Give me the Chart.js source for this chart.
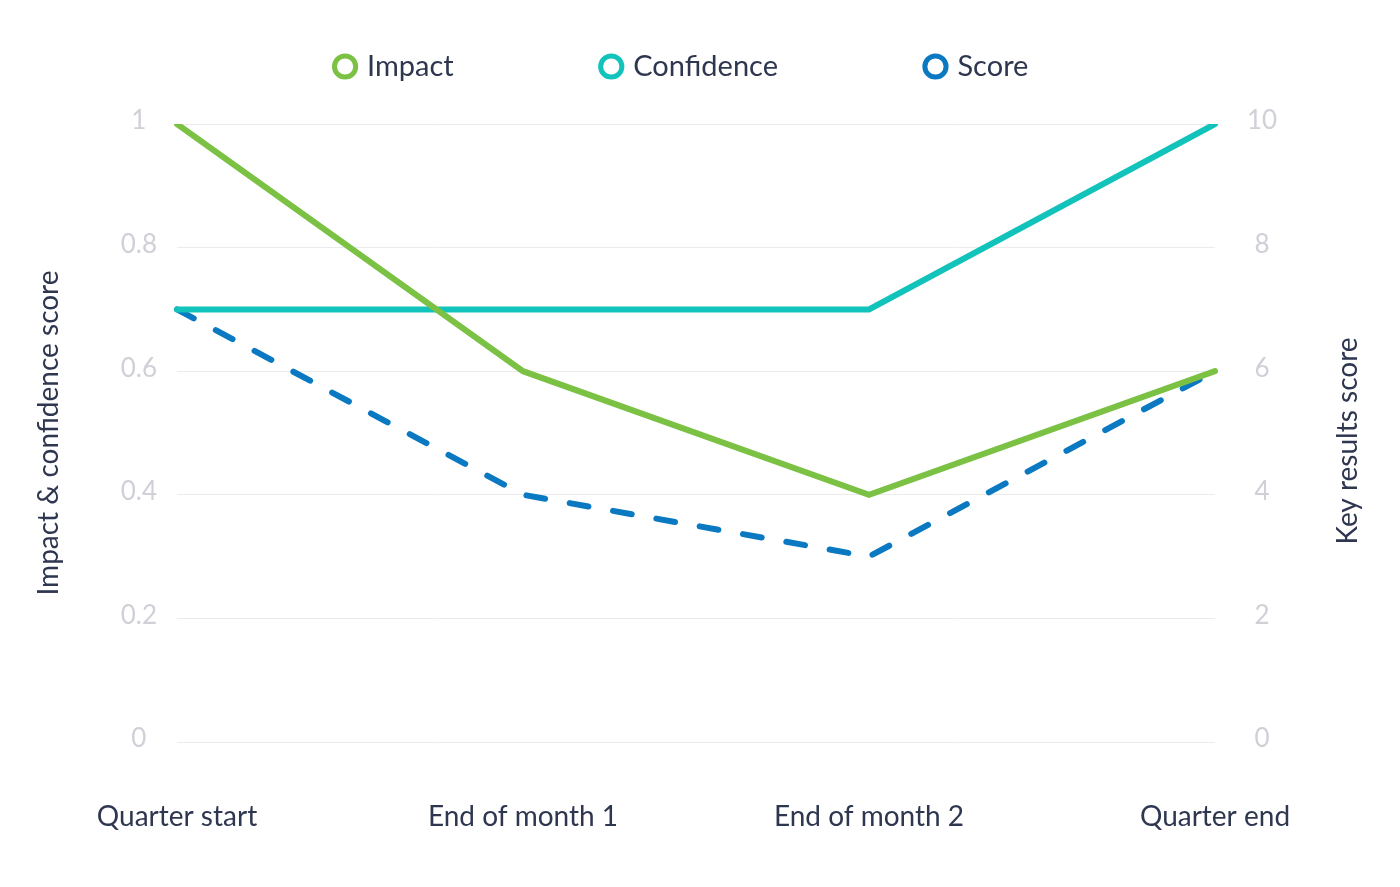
<!DOCTYPE html>
<html>
<head>
<meta charset="utf-8">
<script src="https://cdn.jsdelivr.net/npm/chart.js@4/dist/chart.umd.min.js"></script>
<style>
  html, body { margin: 0; padding: 0; background: #ffffff; }
  #wrap { width: 1400px; height: 887px; position: relative; }
</style>
</head>
<body>
<div id="wrap"><canvas id="c" width="1400" height="887"></canvas></div>
<script>
const categories = ["Quarter start", "End of month 1", "End of month 2", "Quarter end"];
const impactValues = [1, 0.6, 0.4, 0.6];
const confidenceValues = [0.7, 0.7, 0.7, 1];
const scoreValues = [7, 4, 3, 6];
const leftTitle = "Impact & confidence score";
const rightTitle = "Key results score";

const FONT = "Lato, 'Source Sans Pro', 'Noto Sans', sans-serif";
const DARK = "#2e3650";
const TICK = "#cfd0d8";
const COLORS = { impact: "#7bc143", confidence: "#12c3bb", score: "#0a79c1" };

const rightTitlePlugin = {
  id: 'rightTitle',
  afterDraw(chart) {
    const ctx = chart.ctx;
    const area = chart.chartArea;
    ctx.save();
    ctx.fillStyle = DARK;
    ctx.font = "28px " + FONT;
    ctx.textAlign = 'center';
    ctx.textBaseline = 'middle';
    ctx.translate(1348, (area.top + area.bottom) / 2 + 8);
    ctx.rotate(-Math.PI / 2);
    ctx.fillText(rightTitle, 0, 0);
    ctx.restore();
  }
};

const legendTweak = {
  id: 'legendTweak',
  beforeInit(chart) {
    const orig = chart.legend.fit;
    chart.legend.fit = function () {
      orig.call(this);
      this.height = 222;
    };
  },
  afterLayout(chart) {
    const lg = chart.legend;
    lg.left -= 17;
    lg.right -= 17;
  }
};

new Chart(document.getElementById('c'), {
  type: 'line',
  data: {
    labels: categories,
    datasets: [
      { label: 'Impact', data: impactValues, borderColor: COLORS.impact, backgroundColor: '#fff', borderWidth: 6, pointRadius: 0, yAxisID: 'y', tension: 0, borderCapStyle: 'round' },
      { label: 'Confidence', data: confidenceValues, borderColor: COLORS.confidence, backgroundColor: '#fff', borderWidth: 6, pointRadius: 0, yAxisID: 'y', tension: 0, borderCapStyle: 'round' },
      { label: 'Score', data: scoreValues, borderColor: COLORS.score, backgroundColor: '#fff', borderWidth: 6, pointRadius: 0, yAxisID: 'y1', tension: 0, borderDash: [19, 25], borderCapStyle: 'round' }
    ]
  },
  options: {
    responsive: false,
    animation: false,
    devicePixelRatio: 1,
    layout: { padding: { top: -98, bottom: 0, left: 0, right: 0 } },
    plugins: {
      tooltip: { enabled: false },
      legend: {
        position: 'top',
        align: 'center',
        labels: {
          usePointStyle: true,
          pointStyle: 'circle',
          boxWidth: 15,
          boxHeight: 15,
          padding: 150,
          color: DARK,
          font: { family: FONT, size: 29 },
          generateLabels(chart) {
            return chart.data.datasets.map((ds, i) => ({
              text: ds.label,
              fillStyle: '#ffffff',
              strokeStyle: ds.borderColor,
              lineWidth: 5,
              lineDash: [],
              pointStyle: 'circle',
              fontColor: DARK,
              hidden: false,
              datasetIndex: i
            }));
          }
        }
      }
    },
    scales: {
      x: {
        grid: { display: false },
        border: { display: false },
        ticks: { color: DARK, font: { family: FONT, size: 28 }, padding: 50, maxRotation: 0 },
        afterFit(s) { s.height = 145; }
      },
      y: {
        position: 'left',
        min: 0, max: 1,
        ticks: { stepSize: 0.2, color: TICK, font: { family: FONT, size: 26 }, padding: 20, crossAlign: 'center',
                 labelOffset: -3, callback: v => String(+v.toFixed(1)) },
        grid: { color: '#ebebee', lineWidth: 1, drawTicks: false },
        border: { display: false },
        title: { display: true, text: leftTitle, color: DARK, font: { family: FONT, size: 28 }, padding: { top: 32, bottom: 0 } },
        afterFit(s) { s.width = 177; }
      },
      y1: {
        position: 'right',
        min: 0, max: 10,
        ticks: { stepSize: 2, color: TICK, font: { family: FONT, size: 26 }, padding: 32, crossAlign: 'center', labelOffset: -3 },
        grid: { display: false, drawTicks: false },
        border: { display: false },
        afterFit(s) { s.width = 185; }
      }
    }
  },
  plugins: [legendTweak, rightTitlePlugin]
});
</script>
</body>
</html>
